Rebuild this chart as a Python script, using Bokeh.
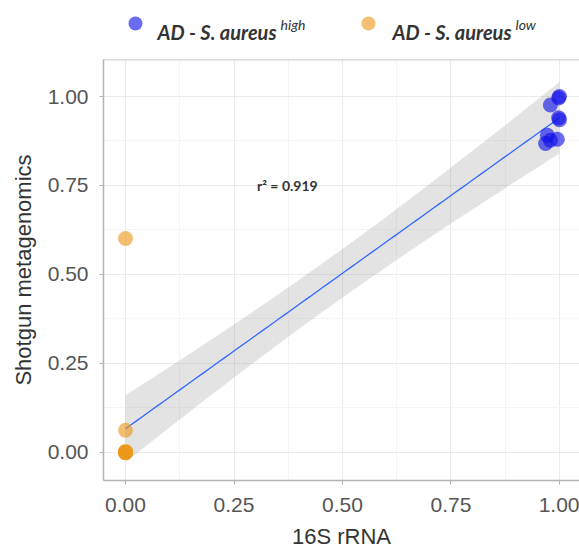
import numpy as np
from bokeh.plotting import figure
from bokeh.layouts import column
from bokeh.models import (ColumnDataSource, Label, Span, SingleIntervalTicker,
                          NumeralTickFormatter, Range1d)
from bokeh.core.properties import value
from bokeh.embed import file_html
from bokeh.resources import INLINE

# ---- data ----
high_x = [1.000, 0.998, 0.979, 0.998, 1.000, 0.972, 0.979, 0.995, 0.968]
high_y = [1.000, 0.996, 0.976, 0.940, 0.935, 0.891, 0.877, 0.880, 0.868]
low_x = [0.0, 0.0, 0.0, 0.0, 0.0, 0.0, 0.0, 0.0, 0.0, 0.0]
low_y = [0.601, 0.062, 0.003, 0.0, 0.0, 0.0, 0.0, 0.0, 0.0, 0.0]
group_names = ["AD - S. aureus", "AD - S. aureus"]
group_sups = ["high", "low"]
r2_text = "r\u00b2 = 0.919"
x_title = "16S rRNA"
y_title = "Shotgun metagenomics"
T_CRIT = 2.110  # t quantile 0.975, df = n - 2 = 17

BLUE = "#1010e8"
ORANGE = "#eb9a1a"
PT_ALPHA = 0.62

# ---- linear fit with 95% confidence band ----
x = np.array(high_x + low_x)
y = np.array(high_y + low_y)
n = len(x)
xm, ym = x.mean(), y.mean()
sxx = ((x - xm) ** 2).sum()
b = ((x - xm) * (y - ym)).sum() / sxx
a = ym - b * xm
s = np.sqrt(((y - (a + b * x)) ** 2).sum() / (n - 2))
xs = np.linspace(x.min(), x.max(), 80)
fit = a + b * xs
se = s * np.sqrt(1.0 / n + (xs - xm) ** 2 / sxx)
band = ColumnDataSource(dict(x=xs, fit=fit, lo=fit - T_CRIT * se, hi=fit + T_CRIT * se))

# ---- main panel ----
Y_TOP = 1.104
p = figure(frame_width=476, frame_height=421,
           x_range=Range1d(-0.0507, 1.0461), y_range=Range1d(-0.079, Y_TOP),
           output_backend="svg", toolbar_location=None,
           min_border_left=103, min_border_top=3, min_border_bottom=60, min_border_right=0)
p.background_fill_color = "white"
p.border_fill_color = "white"
p.outline_line_color = None

p.varea(x="x", y1="lo", y2="hi", source=band, fill_color="#999999", fill_alpha=0.28)
p.line(x="x", y="fit", source=band, line_color="#3366FF", line_width=1.3)

p.scatter(low_x, low_y, size=15, fill_color=ORANGE, fill_alpha=PT_ALPHA, line_color=None)
p.scatter(high_x, high_y, size=15, fill_color=BLUE, fill_alpha=PT_ALPHA, line_color=None)

p.add_layout(Label(x=0.373, y=0.75, text=r2_text, text_align="center", text_baseline="middle",
                   text_font="Lato", text_font_style="bold", text_font_size="14px",
                   text_color="#333333"))

for ax in (p.xaxis[0], p.yaxis[0]):
    ax.ticker = SingleIntervalTicker(interval=0.25, num_minor_ticks=2)
    ax.formatter = NumeralTickFormatter(format="0.00")
    ax.axis_line_color = "#b3b3b3"
    ax.axis_line_width = 1.5
    ax.major_tick_line_color = "#b3b3b3"
    ax.major_tick_out = 4
    ax.major_tick_in = 0
    ax.minor_tick_line_color = None
    ax.major_label_text_font = "Liberation Sans"
    ax.major_label_text_font_size = "21px"
    ax.major_label_text_color = "#555555"
    ax.axis_label_text_font = "Liberation Sans"
    ax.axis_label_text_font_size = "22px"
    ax.axis_label_text_font_style = "normal"
    ax.axis_label_text_color = "#333333"
p.xaxis.axis_label = x_title
p.yaxis.axis_label = y_title
p.xaxis.major_label_standoff = 13
p.yaxis.major_label_standoff = 11
p.xaxis.axis_label_standoff = 9
p.yaxis.axis_label_standoff = 9

p.grid.grid_line_color = "#ebebeb"
p.grid.minor_grid_line_color = "#f4f4f4"

p.add_layout(Span(location=Y_TOP, dimension="width", line_color="#b3b3b3", line_width=1.5))

# ---- legend strip above the panel (its frame is aligned with the panel's) ----
LX0, LX1, LH = 103, 579, 56
leg = figure(width=LX1, height=LH, x_range=Range1d(LX0, LX1), y_range=Range1d(0, LH),
             output_backend="svg", toolbar_location=None,
             x_axis_type=None, y_axis_type=None, min_border=0)
leg.outline_line_color = None
leg.grid.visible = False
leg.background_fill_color = "white"
leg.border_fill_color = "white"

dot_x = [135, 368]
text_x = [157, 392]
sup_x = [280, 515]
leg.scatter(dot_x, [LH - 23, LH - 23], size=14, fill_color=[BLUE, ORANGE],
            fill_alpha=PT_ALPHA, line_color=None)
leg.text(text_x, [LH - 31, LH - 31], text=group_names, text_font=value("Lato"),
         text_font_style="bold italic", text_font_size="20px", text_color="#333333",
         text_baseline="alphabetic")
leg.text(sup_x, [LH - 24, LH - 24], text=group_sups, text_font=value("Lato"),
         text_font_style="italic", text_font_size="14px", text_color="#333333",
         text_baseline="alphabetic")

open("out.html", "w").write(file_html(column(leg, p, spacing=0), INLINE))
